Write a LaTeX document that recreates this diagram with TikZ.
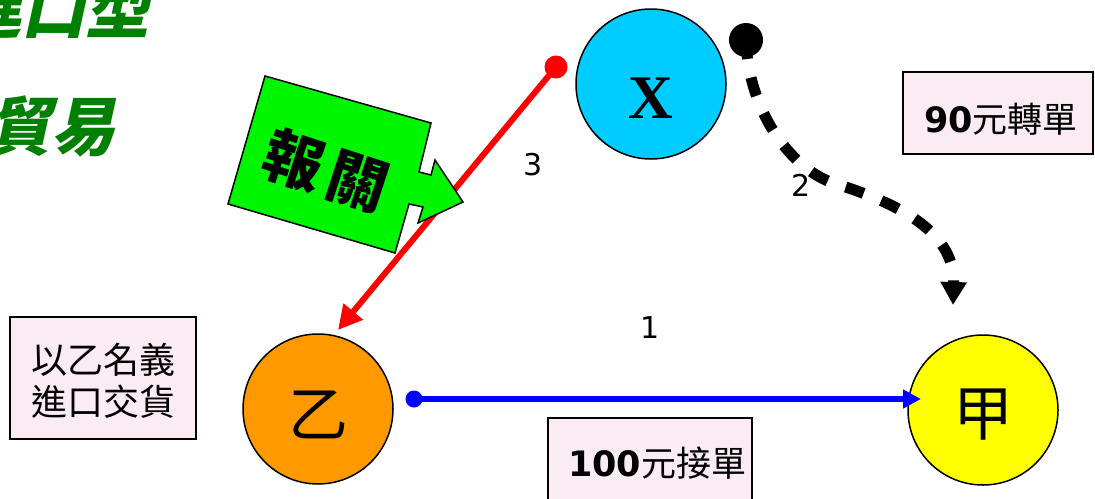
\documentclass[tikz,border=0pt]{standalone}
\usepackage{fontspec}
\setmainfont{DejaVu Sans}
\newfontfamily\cjk{Noto Sans CJK TC}
\newfontfamily\cjkslant{Noto Sans CJK TC}[FakeSlant=0.22]
\newfontfamily\serifx{Liberation Serif}
\usetikzlibrary{arrows.meta}
\definecolor{xcyan}{RGB}{0,204,255}
\definecolor{yiorange}{RGB}{255,153,0}
\definecolor{jiayellow}{RGB}{255,255,0}
\definecolor{boxpink}{RGB}{251,236,244}
\definecolor{titlegreen}{RGB}{0,128,0}
\definecolor{callgreen}{RGB}{0,245,0}
\begin{document}
\begin{tikzpicture}[x=1pt,y=-1pt,
  party/.style={circle, draw=black, line width=1.5pt, minimum size=150pt, inner sep=0pt},
  partytext/.style={inner sep=0pt, font=\cjk\fontsize{60}{60}\selectfont},
  notebox/.style={draw=black, line width=1.5pt, fill=boxpink},
  steplabel/.style={font=\fontsize{30}{30}\selectfont, inner sep=0pt},
  titletext/.style={anchor=base east, text=titlegreen, inner sep=0pt, font=\cjkslant\bfseries\fontsize{64}{64}\selectfont}
]
\useasboundingbox (0,0) rectangle (1095,498);
\fill[white] (0,0) rectangle (1095,498);

% title (partly outside the page)
\node[titletext] (t1) at (150,33) {進口型};
\node[titletext] (t2) at (116,150) {貿易};

% parties
\node[party, fill=xcyan] (X) at (651,84) {};
\node[inner sep=0pt, font=\serifx\bfseries\fontsize{62}{62}\selectfont] (Xt) at (651,98) {X};
\node[party, fill=yiorange] (Y) at (318,409) {};
\node[partytext] (Yt) at (318,415) {乙};
\node[party, fill=jiayellow] (J) at (983,410) {};
\node[partytext] (Jt) at (983,415) {甲};

% note boxes
\draw[notebox] (10,317) rectangle (196,439);
\node[align=center, inner sep=0pt, font=\cjk\fontsize{36}{42}\selectfont] (n1) at (103,381) {以乙名義\\進口交貨};
\draw[notebox] (903,72) rectangle (1093,154);
\node[anchor=west, inner sep=0pt, font=\fontsize{35}{35}\selectfont] (n2) at (924,119) {{\bfseries 90}{\cjk 元轉單}};
\draw[notebox] (548,418) rectangle (752,520);
\node[anchor=west, inner sep=0pt, font=\fontsize{35}{35}\selectfont] (n3) at (568,463) {{\bfseries 100}{\cjk 元接單}};

% connector 1 (blue)
\coordinate (b0) at (414,399);
\coordinate (b1) at (921,399);
\fill[blue] (b0) circle (8.5pt);
\draw[blue, line width=6pt, -{Triangle[length=18pt,width=18pt]}] (b0) -- (b1);

% connector 3 (red)
\coordinate (r0) at (556,67);
\coordinate (r1) at (338,330);
\fill[red] (r0) circle (11.5pt);
\draw[red, line width=6pt, -{Triangle[length=24pt,width=24pt]}] (r0) -- (r1);

% connector 2 (black dashed)
\coordinate (k0) at (746,40);
\coordinate (km) at (833,183);
\coordinate (k1) at (953,305);
\fill[black] (k0) circle (17pt);
\draw[black, line width=11pt, dash pattern=on 19pt off 19pt, -{Triangle[length=23pt,width=25pt]}]
  (k0) .. controls (748,110) and (790,168) .. (km)
       .. controls (905,205) and (955,235) .. (k1);

% step labels
\node[steplabel] (l3) at (533,165) {3};
\node[steplabel] (l2) at (801,185) {2};
\node[steplabel] (l1) at (650,328) {1};

% customs callout
\filldraw[fill=callgreen, draw=black, line width=1.5pt, line join=miter]
  (265,76) -- (431,123) -- (419,172) -- (431,175) -- (435,160) -- (463,202)
  -- (418,223) -- (423,207) -- (409,204) -- (395,253) -- (228,204) -- cycle;
\node[rotate=-18, inner sep=0pt, font=\cjk\bfseries\fontsize{60}{60}\selectfont] (bg) at (326,171) {報\hspace{8pt}關};
\end{tikzpicture}
\end{document}
